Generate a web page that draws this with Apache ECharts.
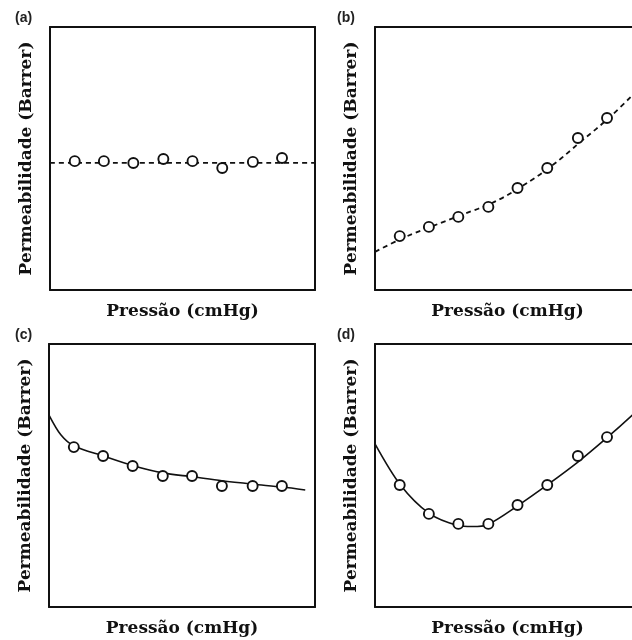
<!DOCTYPE html>
<html lang="pt">

<head>
  <meta charset="UTF-8">
  <title>Permeabilidade x Pressão</title>
  <style>
    html, body { margin: 0; padding: 0; background: #fff; }
  </style>
</head>

<body>
  <div id="main" style="width: 632px; height: 640px"></div>

  <script src="https://cdn.jsdelivr.net/npm/echarts@6/dist/echarts.min.js"></script>

  <script>
    // pressão (posição dos pontos medidos, unidades arbitrárias)
    const pressao = [0.84, 1.83, 2.83, 3.85, 4.84, 5.85, 6.89, 7.88]

    // (a) permeabilidade constante
    const permA = [4.9, 4.9, 4.83, 4.98, 4.9, 4.64, 4.87, 5.02]
    const ajusteAx = [0, 9]
    const ajusteAy = [4.83, 4.83]

    // (b) aumenta com a pressão
    const permB = [2.05, 2.4, 2.78, 3.16, 3.88, 4.64, 5.78, 6.54]
    const ajusteBx = [0, 1, 2, 3, 4, 5, 6, 7, 8, 9]
    const ajusteBy = [1.45, 2.0, 2.45, 2.88, 3.32, 3.95, 4.72, 5.65, 6.6, 7.7]

    // (c) diminui com a pressão
    const permC = [6.08, 5.74, 5.36, 4.98, 4.98, 4.6, 4.6, 4.6]
    const ajusteCx = [0, 0.4, 0.85, 1.84, 2.82, 3.84, 4.86, 5.85, 6.9, 7.89, 8.67]
    const ajusteCy = [7.3, 6.55, 6.12, 5.74, 5.38, 5.1, 4.95, 4.8, 4.67, 4.56, 4.45]

    // (d) passa por um mínimo
    const permD = [4.64, 3.54, 3.16, 3.16, 3.88, 4.64, 5.74, 6.46]
    const ajusteDx = [0, 0.85, 1.84, 2.82, 3.3, 3.84, 4.86, 5.85, 6.9, 7.86, 8.74, 9]
    const ajusteDy = [6.2, 4.66, 3.56, 3.1, 3.06, 3.14, 3.86, 4.64, 5.52, 6.42, 7.3, 7.6]

    const paineis = [
      { rotulo: '(a)', pts: permA, fx: ajusteAx, fy: ajusteAy, tracejado: true },
      { rotulo: '(b)', pts: permB, fx: ajusteBx, fy: ajusteBy, tracejado: true },
      { rotulo: '(c)', pts: permC, fx: ajusteCx, fy: ajusteCy, tracejado: false },
      { rotulo: '(d)', pts: permD, fx: ajusteDx, fy: ajusteDy, tracejado: false }
    ]

    // os painéis da direita passam da borda da imagem (recortados no original)
    const caixas = [
      { left: 50, top: 27, width: 265, height: 263 },
      { left: 375, top: 27, width: 265, height: 263 },
      { left: 49, top: 344, width: 266, height: 263 },
      { left: 375, top: 344, width: 265, height: 263 }
    ]

    const fonteTitulo = {
      fontFamily: 'DejaVu Serif',
      fontWeight: 'bold',
      fontSize: 17,
      color: '#111'
    }

    const linhaCaixa = { show: true, onZero: false, lineStyle: { color: '#111', width: 2 } }

    let grid = [], xAxis = [], yAxis = [], series = [], graphic = []

    paineis.forEach(function (p, i) {
      const recortado = i % 2 === 1

      grid.push(Object.assign({ outerBoundsMode: 'none' }, caixas[i]))

      // eixo de baixo (com título) e de cima (só a linha da caixa)
      xAxis.push({
        type: 'value', gridIndex: i, min: 0, max: 9, position: 'bottom',
        axisLine: linhaCaixa, axisTick: { show: false },
        axisLabel: { show: false }, splitLine: { show: false },
        name: 'Pressão (cmHg)', nameLocation: 'middle', nameGap: 13,
        nameTextStyle: fonteTitulo
      })
      xAxis.push({
        type: 'value', gridIndex: i, min: 0, max: 9, position: 'top',
        axisLine: linhaCaixa, axisTick: { show: false },
        axisLabel: { show: false }, splitLine: { show: false }
      })

      yAxis.push({
        type: 'value', gridIndex: i, min: 0, max: 10, position: 'left',
        axisLine: linhaCaixa, axisTick: { show: false },
        axisLabel: { show: false }, splitLine: { show: false },
        name: 'Permeabilidade (Barrer)', nameLocation: 'middle', nameGap: 15,
        nameTextStyle: fonteTitulo
      })
      yAxis.push({
        type: 'value', gridIndex: i, min: 0, max: 10, position: 'right',
        show: !recortado,
        axisLine: linhaCaixa, axisTick: { show: false },
        axisLabel: { show: false }, splitLine: { show: false }
      })

      series.push({
        type: 'line', xAxisIndex: 2 * i, yAxisIndex: 2 * i,
        data: p.fx.map((x, k) => [x, p.fy[k]]),
        smooth: p.tracejado ? 0.4 : 0.3,
        showSymbol: false,
        silent: true,
        lineStyle: {
          color: '#111',
          width: p.tracejado ? 1.8 : 1.6,
          type: p.tracejado ? [5, 4] : 'solid'
        },
        z: 2
      })

      series.push({
        type: 'scatter', xAxisIndex: 2 * i, yAxisIndex: 2 * i,
        data: pressao.map((x, k) => [x, p.pts[k]]),
        symbol: 'circle',
        symbolSize: 10,
        itemStyle: { color: '#fff', borderColor: '#111', borderWidth: 1.9, opacity: 1 },
        z: 3
      })

      graphic.push({
        type: 'text',
        left: recortado ? 337 : 15,
        top: i < 2 ? 11 : 328,
        style: {
          text: p.rotulo,
          font: 'bold 14px "Liberation Sans", Arial, sans-serif',
          fill: '#222'
        }
      })
    })

    const myChart = echarts.init(document.getElementById('main'), null, { renderer: 'canvas' })
    myChart.setOption({
      animation: false,
      backgroundColor: '#fff',
      grid: grid,
      xAxis: xAxis,
      yAxis: yAxis,
      series: series,
      graphic: graphic
    })
  </script>
</body>

</html>
